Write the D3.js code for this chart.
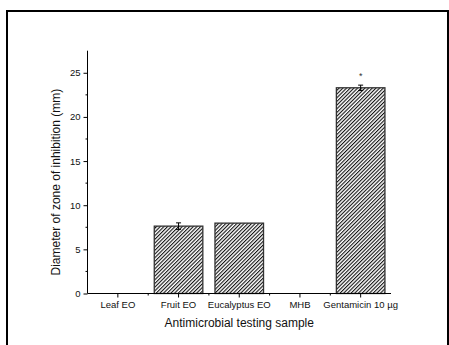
<!DOCTYPE html>
<html><head><meta charset="utf-8">
<script src="https://cdn.jsdelivr.net/npm/d3@7"></script>
<style>body{margin:0;background:#fff}svg{display:block}text{font-family:Arial,"Liberation Sans",sans-serif}</style>
</head><body>
<script>
const categories = ["Leaf EO","Fruit EO","Eucalyptus EO","MHB","Gentamicin 10 µg"];
const values = [0, 7.63, 7.97, 0, 23.3];
const errors = [0, 0.37, 0, 0, 0.3];
const marks = ["", "", "", "", "*"];
const yTicks = [0,5,10,15,20,25];

const W=449,H=345;
const svg=d3.select("body").append("svg").attr("width",W).attr("height",H);
svg.append("rect").attr("x",7).attr("y",11).attr("width",441).attr("height",350)
  .attr("fill","none").attr("stroke","#000").attr("stroke-width",2);

const defs=svg.append("defs");
const pat=defs.append("pattern").attr("id","hatch").attr("patternUnits","userSpaceOnUse")
  .attr("width",2.6).attr("height",2.6).attr("patternTransform","rotate(45)");
pat.append("rect").attr("width",2.6).attr("height",2.6).attr("fill","#fff");
pat.append("line").attr("x1",0).attr("y1",0).attr("x2",0).attr("y2",2.6).attr("stroke","#111").attr("stroke-width",2.2);

const x0=87.5,x1=391,y0=293.5,yTop=50.7;
const x=d3.scaleBand().domain(categories).range([x0,x1]).paddingInner(0.2).paddingOuter(0.1);
const y=d3.scaleLinear().domain([0,27.5]).range([y0,yTop]);

const g=svg.append("g");
g.selectAll(".bar").data(categories).enter().filter((d,i)=>values[i]>0).append("rect")
  .attr("x",d=>x(d)).attr("width",x.bandwidth())
  .attr("y",d=>y(values[categories.indexOf(d)]))
  .attr("height",d=>y(0)-y(values[categories.indexOf(d)]))
  .attr("fill","url(#hatch)").attr("stroke","#333").attr("stroke-width",1.3);
categories.forEach((c,i)=>{
  if(errors[i]>0){
    const cx=x(c)+x.bandwidth()/2;
    const e=g.append("g").attr("stroke","#000").attr("stroke-width",1);
    e.append("line").attr("x1",cx).attr("x2",cx).attr("y1",y(values[i]+errors[i])).attr("y2",y(values[i]-errors[i]));
    e.append("line").attr("x1",cx-2.5).attr("x2",cx+2.5).attr("y1",y(values[i]+errors[i])).attr("y2",y(values[i]+errors[i]));
    e.append("line").attr("x1",cx-2.5).attr("x2",cx+2.5).attr("y1",y(values[i]-errors[i])).attr("y2",y(values[i]-errors[i]));
  }
  if(marks[i]){
    g.append("text").attr("x",x(c)+x.bandwidth()/2).attr("y",y(values[i]+errors[i])-6)
      .attr("text-anchor","middle").attr("font-size",9).attr("fill","#333").text(marks[i]);
  }
});

const yAxis=d3.axisLeft(y).tickValues(yTicks).tickSize(4).tickPadding(3);
const ya=svg.append("g").attr("transform",`translate(${x0},0)`).call(yAxis);
ya.select(".domain").attr("d",`M0,${y0}V${yTop}`);
ya.selectAll(".minor").data(d3.range(2.5,27.5,5)).enter().append("line")
  .attr("x1",0).attr("x2",-2).attr("y1",d=>y(d)).attr("y2",d=>y(d)).attr("stroke","#000");
ya.selectAll("text").attr("font-size",9.5).attr("fill","#111").attr("font-family","Arial, 'Liberation Sans', sans-serif");

const xAxis=d3.axisBottom(x).tickSize(4).tickPadding(4);
const xa=svg.append("g").attr("transform",`translate(0,${y0})`).call(xAxis);
xa.select(".domain").attr("d",`M${x0},0H${x1}`);
const step=x.step();
xa.selectAll(".minorx").data(d3.range(1,5)).enter().append("line")
  .attr("x1",d=>x0+d*step).attr("x2",d=>x0+d*step).attr("y1",0).attr("y2",2).attr("stroke","#000");
xa.selectAll("text").attr("font-size",9.5).attr("fill","#111").attr("font-family","Arial, 'Liberation Sans', sans-serif");

svg.append("text").attr("x",(x0+x1)/2).attr("y",327).attr("text-anchor","middle")
  .attr("font-size",12).attr("fill","#111").text("Antimicrobial testing sample");
svg.append("text").attr("transform",`translate(60,${(y0+yTop)/2+10}) rotate(-90)`)
  .attr("text-anchor","middle").attr("font-size",12).attr("fill","#111").text("Diameter of zone of inhibition (mm)");
</script>
</body></html>
